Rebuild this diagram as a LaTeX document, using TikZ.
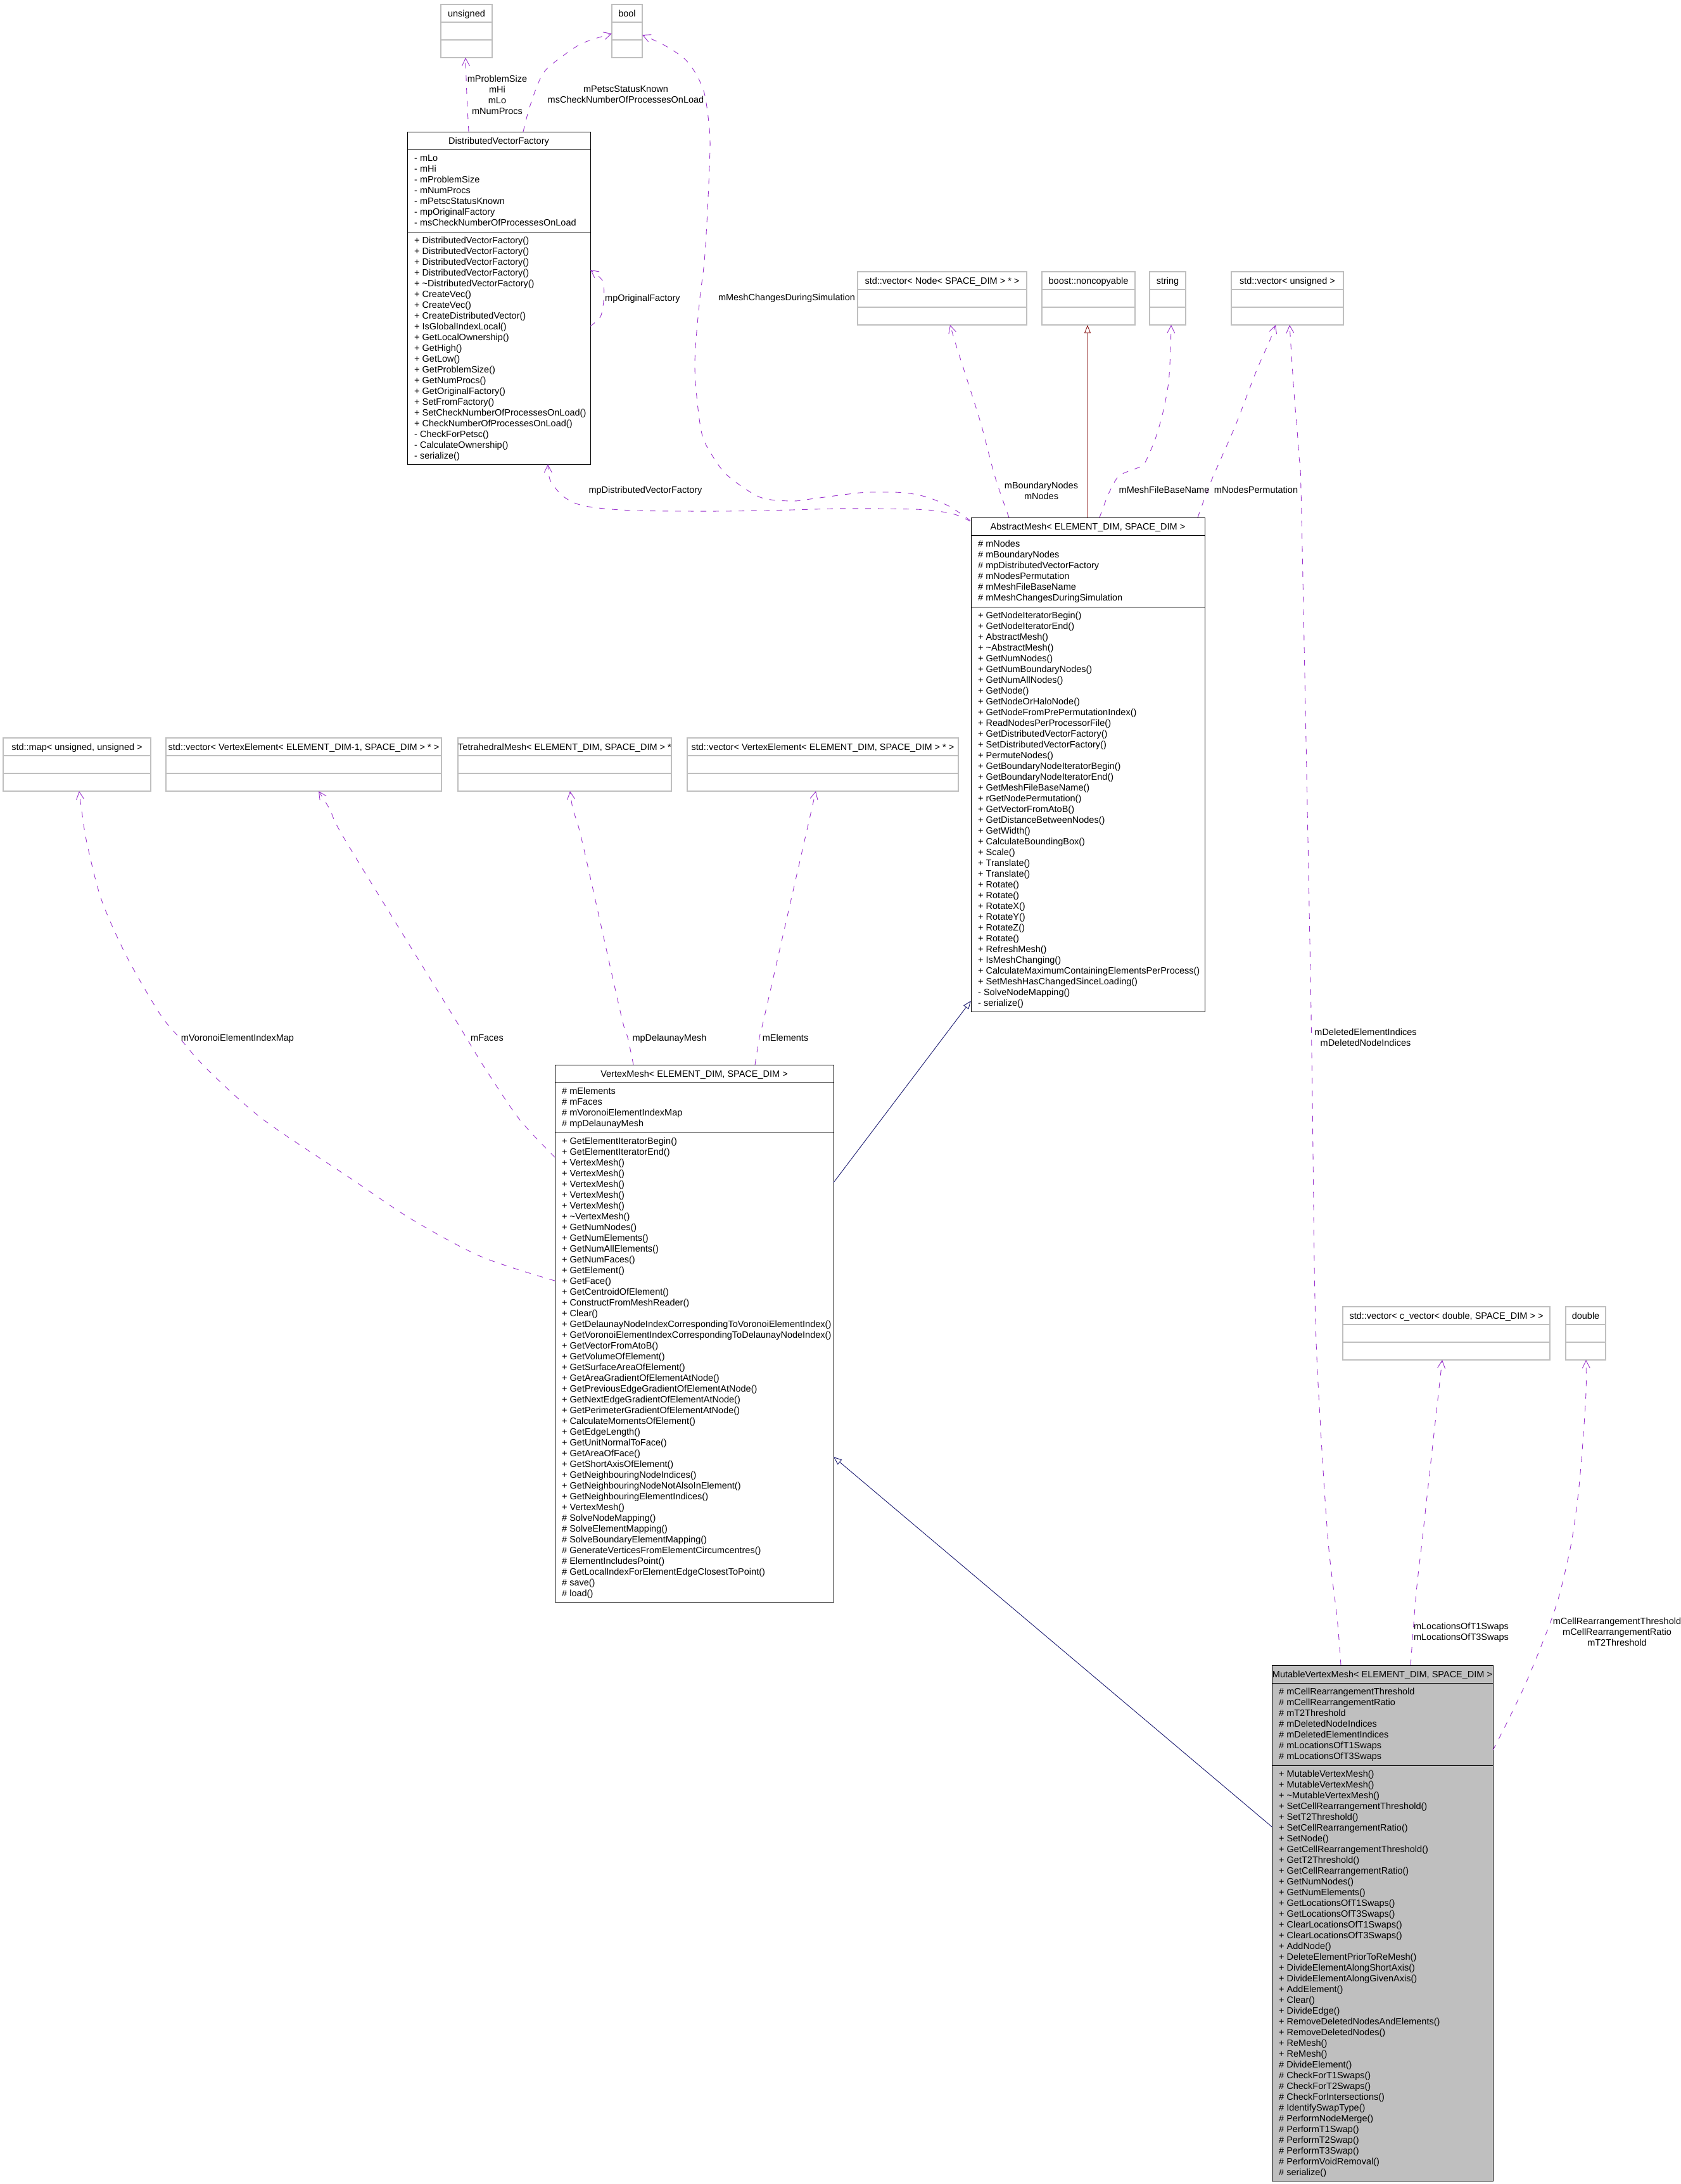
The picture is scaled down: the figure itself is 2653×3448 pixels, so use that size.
\documentclass[tikz,border=0pt]{standalone}
\usepackage{fontspec}
\setmainfont{Liberation Sans}
\usetikzlibrary{arrows.meta,calc}
\definecolor{edgepurple}{HTML}{9A32CD}
\definecolor{inhnavy}{HTML}{191970}
\definecolor{inhred}{HTML}{8B1A1A}
\definecolor{boxgray}{HTML}{BFBFBF}
\newcommand\fs{\fontsize{14.5}{17}\selectfont}
\def\boxfill{white}
\newcommand\umlbox[9]{%
 \pgfmathsetmacro\ya{#3+28}%
 \pgfmathsetmacro\yb{\ya+17*#5+11}%
 \pgfmathsetmacro\yc{\yb+17*#6+10}%
 \pgfmathsetmacro\bw{#4-#2}%
 \pgfmathsetmacro\bh{\yc-#3}%
 \node[classbox, fill=\boxfill, minimum width=\bw pt, minimum height=\bh pt] (#1) at (#2,#3) {};%
 \draw[line width=1pt] (#2,\ya) -- (#4,\ya) (#2,\yb) -- (#4,\yb);%
 \node[txt, anchor=base] at ({(#2+#4)/2},{#3+19}) {#7};%
 \foreach \itm [count=\rowno from 0] in {#8} {\node[txt] at ({#2+11},{\ya+18.5+17*\rowno}) {\itm};}%
 \foreach \itm [count=\rowno from 0] in {#9} {\node[txt] at ({#2+11},{\yb+18.5+17*\rowno}) {\itm};}%
}
\newcommand\graybox[5]{%
 \pgfmathsetmacro\bw{#4-#2}%
 \node[graybx, minimum width=\bw pt] (#1) at (#2,#3) {};%
 \draw[boxgray, line width=1.3pt] (#2,#3+28) -- (#4,#3+28) (#2,#3+56) -- (#4,#3+56);%
 \node[txt, anchor=base] at ({(#2+#4)/2},{#3+19}) {#5};%
}
\begin{document}
\begin{tikzpicture}[x=1pt,y=-1pt,
  txt/.style={anchor=base west, inner sep=0pt, font=\fs},
  lbl/.style={align=center, inner sep=0pt, font=\fs},
  classbox/.style={draw=black, line width=1pt, inner sep=0pt, outer sep=0pt, anchor=north west},
  graybx/.style={draw=boxgray, line width=1.3pt, minimum height=84pt, inner sep=0pt, outer sep=0pt, anchor=north west},
  dep/.style={draw=edgepurple, line width=0.9pt, dash pattern=on 9pt off 11pt, -{Straight Barb[length=12pt,width=12pt]}},
  inh/.style={line width=0.9pt, -{Triangle[open,length=13pt,width=10pt,fill=white]}}]
\fill[white] (0,0) rectangle (2653,3448);
\useasboundingbox (0,0) rectangle (2653,3448);

% ---------- plain type boxes ----------
\graybox{uns}{696}{7}{777}{unsigned}
\graybox{bool}{966}{7}{1014}{bool}
\graybox{vnode}{1354}{429}{1621}{std::vector< Node< SPACE\_DIM > * >}
\graybox{nonc}{1645}{429}{1792}{boost::noncopyable}
\graybox{str}{1815}{429}{1872}{string}
\graybox{vuns}{1944}{429}{2121}{std::vector< unsigned >}
\graybox{map}{5}{1165}{238}{std::map< unsigned, unsigned >}
\graybox{vfe}{262}{1165}{697}{std::vector< VertexElement< ELEMENT\_DIM-1, SPACE\_DIM > * >}
\graybox{tet}{723}{1165}{1060}{TetrahedralMesh< ELEMENT\_DIM, SPACE\_DIM > *}
\graybox{vel}{1085}{1165}{1513}{std::vector< VertexElement< ELEMENT\_DIM, SPACE\_DIM > * >}
\graybox{cvec}{2120}{2063}{2447}{std::vector< c\_vector< double, SPACE\_DIM > >}
\graybox{dbl}{2472}{2063}{2535}{double}

% ---------- class boxes ----------
\umlbox{dvf}{643}{208}{932}{7}{21}{DistributedVectorFactory}
{- mLo, - mHi, - mProblemSize, - mNumProcs, - mPetscStatusKnown, - mpOriginalFactory, - msCheckNumberOfProcessesOnLoad}
{+ DistributedVectorFactory(), + DistributedVectorFactory(), + DistributedVectorFactory(), + DistributedVectorFactory(),
 + \textasciitilde DistributedVectorFactory(), + CreateVec(), + CreateVec(), + CreateDistributedVector(), + IsGlobalIndexLocal(),
 + GetLocalOwnership(), + GetHigh(), + GetLow(), + GetProblemSize(), + GetNumProcs(), + GetOriginalFactory(), + SetFromFactory(),
 + SetCheckNumberOfProcessesOnLoad(), + CheckNumberOfProcessesOnLoad(), - CheckForPetsc(), - CalculateOwnership(), - serialize()}

\umlbox{am}{1533}{817}{1902}{6}{37}{AbstractMesh< ELEMENT\_DIM, SPACE\_DIM >}
{\# mNodes, \# mBoundaryNodes, \# mpDistributedVectorFactory, \# mNodesPermutation, \# mMeshFileBaseName, \# mMeshChangesDuringSimulation}
{+ GetNodeIteratorBegin(), + GetNodeIteratorEnd(), + AbstractMesh(), + \textasciitilde AbstractMesh(), + GetNumNodes(),
 + GetNumBoundaryNodes(), + GetNumAllNodes(), + GetNode(), + GetNodeOrHaloNode(), + GetNodeFromPrePermutationIndex(),
 + ReadNodesPerProcessorFile(), + GetDistributedVectorFactory(), + SetDistributedVectorFactory(), + PermuteNodes(),
 + GetBoundaryNodeIteratorBegin(), + GetBoundaryNodeIteratorEnd(), + GetMeshFileBaseName(), + rGetNodePermutation(),
 + GetVectorFromAtoB(), + GetDistanceBetweenNodes(), + GetWidth(), + CalculateBoundingBox(), + Scale(), + Translate(),
 + Translate(), + Rotate(), + Rotate(), + RotateX(), + RotateY(), + RotateZ(), + Rotate(), + RefreshMesh(), + IsMeshChanging(),
 + CalculateMaximumContainingElementsPerProcess(), + SetMeshHasChangedSinceLoading(), - SolveNodeMapping(), - serialize()}

\umlbox{vm}{876}{1681}{1316}{4}{43}{VertexMesh< ELEMENT\_DIM, SPACE\_DIM >}
{\# mElements, \# mFaces, \# mVoronoiElementIndexMap, \# mpDelaunayMesh}
{+ GetElementIteratorBegin(), + GetElementIteratorEnd(), + VertexMesh(), + VertexMesh(), + VertexMesh(), + VertexMesh(),
 + VertexMesh(), + \textasciitilde VertexMesh(), + GetNumNodes(), + GetNumElements(), + GetNumAllElements(), + GetNumFaces(),
 + GetElement(), + GetFace(), + GetCentroidOfElement(), + ConstructFromMeshReader(), + Clear(),
 + GetDelaunayNodeIndexCorrespondingToVoronoiElementIndex(), + GetVoronoiElementIndexCorrespondingToDelaunayNodeIndex(),
 + GetVectorFromAtoB(), + GetVolumeOfElement(), + GetSurfaceAreaOfElement(), + GetAreaGradientOfElementAtNode(),
 + GetPreviousEdgeGradientOfElementAtNode(), + GetNextEdgeGradientOfElementAtNode(), + GetPerimeterGradientOfElementAtNode(),
 + CalculateMomentsOfElement(), + GetEdgeLength(), + GetUnitNormalToFace(), + GetAreaOfFace(), + GetShortAxisOfElement(),
 + GetNeighbouringNodeIndices(), + GetNeighbouringNodeNotAlsoInElement(), + GetNeighbouringElementIndices(), + VertexMesh(),
 \# SolveNodeMapping(), \# SolveElementMapping(), \# SolveBoundaryElementMapping(), \# GenerateVerticesFromElementCircumcentres(),
 \# ElementIncludesPoint(), \# GetLocalIndexForElementEdgeClosestToPoint(), \# save(), \# load()}

\def\boxfill{boxgray}
\umlbox{mvm}{2008}{2629}{2357}{7}{38}{MutableVertexMesh< ELEMENT\_DIM, SPACE\_DIM >}
{\# mCellRearrangementThreshold, \# mCellRearrangementRatio, \# mT2Threshold, \# mDeletedNodeIndices, \# mDeletedElementIndices,
 \# mLocationsOfT1Swaps, \# mLocationsOfT3Swaps}
{+ MutableVertexMesh(), + MutableVertexMesh(), + \textasciitilde MutableVertexMesh(), + SetCellRearrangementThreshold(),
 + SetT2Threshold(), + SetCellRearrangementRatio(), + SetNode(), + GetCellRearrangementThreshold(), + GetT2Threshold(),
 + GetCellRearrangementRatio(), + GetNumNodes(), + GetNumElements(), + GetLocationsOfT1Swaps(), + GetLocationsOfT3Swaps(),
 + ClearLocationsOfT1Swaps(), + ClearLocationsOfT3Swaps(), + AddNode(), + DeleteElementPriorToReMesh(),
 + DivideElementAlongShortAxis(), + DivideElementAlongGivenAxis(), + AddElement(), + Clear(), + DivideEdge(),
 + RemoveDeletedNodesAndElements(), + RemoveDeletedNodes(), + ReMesh(), + ReMesh(), \# DivideElement(), \# CheckForT1Swaps(),
 \# CheckForT2Swaps(), \# CheckForIntersections(), \# IdentifySwapType(), \# PerformNodeMerge(), \# PerformT1Swap(),
 \# PerformT2Swap(), \# PerformT3Swap(), \# PerformVoidRemoval(), \# serialize()}

% ---------- connector end points ----------
\coordinate (e1s) at ($(dvf.north west)+(97,0)$);
\coordinate (e1t) at ($(uns.south west)+(39,0)$);
\coordinate (e2s) at ($(dvf.north west)+(183,0)$);
\coordinate (e2t) at ($(bool.north west)+(0,46)$);
\coordinate (e3s) at ($(am.north west)+(-1,5)$);
\coordinate (e3t) at ($(bool.north east)+(0,48)$);
\coordinate (e4s) at ($(am.north west)+(-1,6)$);
\coordinate (e4t) at ($(dvf.south west)+(222,0)$);
\coordinate (e5s) at ($(dvf.north east)+(0,307)$);
\coordinate (e5t) at ($(dvf.north east)+(0,218)$);
\coordinate (e6s) at ($(am.north west)+(60,0)$);
\coordinate (e6t) at ($(vnode.south west)+(146,0)$);
\coordinate (e7s) at ($(am.north west)+(184,0)$);
\coordinate (e7t) at ($(nonc.south west)+(72,0)$);
\coordinate (e8s) at ($(am.north west)+(203,0)$);
\coordinate (e8t) at ($(str.south west)+(34,0)$);
\coordinate (e9s) at ($(am.north west)+(358,0)$);
\coordinate (e9t) at ($(vuns.south west)+(70,0)$);
\coordinate (e10s) at ($(mvm.north west)+(109,0)$);
\coordinate (e10t) at ($(vuns.south west)+(92,0)$);
\coordinate (e11s) at ($(mvm.north west)+(219,0)$);
\coordinate (e11t) at ($(cvec.south west)+(157,0)$);
\coordinate (e12s) at ($(mvm.north east)+(0,134)$);
\coordinate (e12t) at ($(dbl.south west)+(32,0)$);
\coordinate (e13s) at ($(vm.north west)+(0,341)$);
\coordinate (e13t) at ($(map.south west)+(120,0)$);
\coordinate (e14s) at ($(vm.north west)+(0,146)$);
\coordinate (e14t) at ($(vfe.south west)+(241,0)$);
\coordinate (e15s) at ($(vm.north west)+(124,0)$);
\coordinate (e15t) at ($(tet.south west)+(177,0)$);
\coordinate (e16s) at ($(vm.north west)+(316,0)$);
\coordinate (e16t) at ($(vel.south west)+(203,0)$);
\coordinate (e17s) at ($(vm.north east)+(0,186)$);
\coordinate (e17t) at ($(am.south west)+(0,-17)$);
\coordinate (e18s) at ($(mvm.north west)+(0,255)$);
\coordinate (e18t) at ($(vm.north east)+(0,619)$);

% ---------- connectors ----------
\draw[dep] plot[smooth] coordinates {(e1s) (737,150) (e1t)};
\draw[dep] plot[smooth] coordinates {(e2s) (835,173) (849,133) (862,110) (889,88) (920,68) (e2t)};
\draw[dep] plot[smooth] coordinates {(e3s) (1500,800) (1464,785) (1429,778) (1393,777) (1357,778) (1286,787) (1250,791) (1200,785) (1150,752) (1125,720) (1107,680) (1097,580) (1104,480) (1112,413) (1117,333) (1121,233) (1119,193) (1112,147) (1099,117) (1081,93) (1050,72) (e3t)};
\draw[dep] plot[smooth] coordinates {(e4s) (1507,812) (1464,805) (1393,803) (1321,803) (1250,805) (1143,807) (1000,806) (924,799) (891,785) (869,759) (e4t)};
\draw[dep] plot[smooth] coordinates {(e5s) (948,500) (953,475) (953,448) (947,438) (e5t)};
\draw[dep] plot[smooth] coordinates {(e6s) (1571,753) (1549,670) (1528,603) (1511,550) (e6t)};
\draw[inh, draw=inhred] (e7s) -- (e7t);
\draw[dep] plot[smooth] coordinates {(e8s) (1750,780) (1766,752) (1790,741) (1805,734) (1815,715) (1826,687) (1837,647) (1845,603) (1848,553) (e8t)};
\draw[dep] plot[smooth] coordinates {(e9s) (1912,760) (1950,673) (1983,587) (2005,537) (e9t)};
\draw[dep] plot[smooth] coordinates {(e10s) (2111,2554) (2097,2435) (2084,2238) (2076,2050) (2070,1600) (2055,817) (2051,720) (2043,620) (e10t)};
\draw[dep] plot[smooth] coordinates {(e11s) (2236,2514) (2245,2435) (2258,2317) (2269,2218) (e11t)};
\draw[dep] plot[smooth] coordinates {(e12s) (2378,2722) (2410,2655) (2446,2566) (2463,2514) (2481,2435) (2492,2356) (2499,2277) (2504,2198) (e12t)};
\draw[dep] plot[smooth] coordinates {(e13s) (760,1984) (650,1925) (553,1860) (415,1767) (326,1687) (283,1638) (252,1600) (200,1510) (160,1420) (137,1330) (129,1280) (e13t)};
\draw[dep] plot[smooth] coordinates {(e14s) (820,1767) (766,1687) (736,1638) (713,1600) (546,1328) (522,1280) (e14t)};
\draw[dep] plot[smooth] coordinates {(e15s) (991,1638) (980,1600) (919,1328) (905,1280) (e15t)};
\draw[dep] plot[smooth] coordinates {(e16s) (1199,1638) (1208,1600) (1270,1328) (e16t)};
\draw[inh, draw=inhnavy] (e17s) -- (e17t);
\draw[inh, draw=inhnavy] (e18s) -- (e18t);

% ---------- connector labels ----------
\node[lbl] (l1) at (785,150) {mProblemSize\\mHi\\mLo\\mNumProcs};
\node[lbl] (l2) at (988,149) {mPetscStatusKnown\\msCheckNumberOfProcessesOnLoad};
\node[lbl, anchor=base] (l3) at (1242,474) {mMeshChangesDuringSimulation};
\node[lbl, anchor=base west] (l4) at (955,475) {mpOriginalFactory};
\node[lbl, anchor=base] (l5) at (1019,778) {mpDistributedVectorFactory};
\node[lbl] (l6) at (1644,775) {mBoundaryNodes\\mNodes};
\node[lbl, anchor=base] (l7) at (1838,778) {mMeshFileBaseName};
\node[lbl, anchor=base] (l8) at (1983,778) {mNodesPermutation};
\node[lbl] (l9) at (2156,1638) {mDeletedElementIndices\\mDeletedNodeIndices};
\node[lbl] (l10) at (2307,2577) {mLocationsOfT1Swaps\\mLocationsOfT3Swaps};
\node[lbl] (l11) at (2553,2576) {mCellRearrangementThreshold\\mCellRearrangementRatio\\mT2Threshold};
\node[lbl, anchor=base] (l12) at (375,1643) {mVoronoiElementIndexMap};
\node[lbl, anchor=base] (l13) at (769,1643) {mFaces};
\node[lbl, anchor=base] (l14) at (1057,1643) {mpDelaunayMesh};
\node[lbl, anchor=base] (l15) at (1240,1643) {mElements};
\end{tikzpicture}
\end{document}
